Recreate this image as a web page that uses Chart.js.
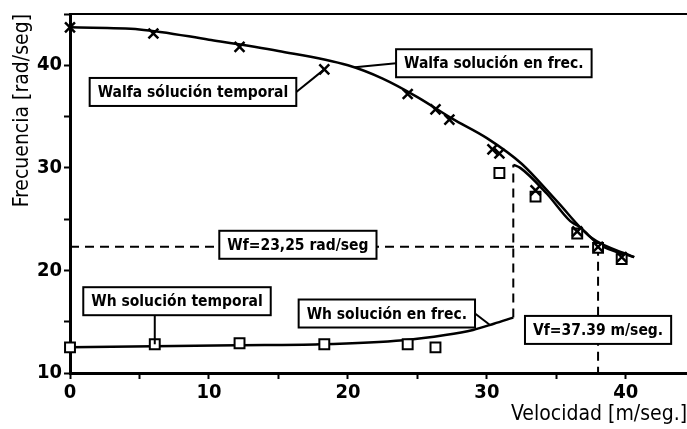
<!DOCTYPE html>
<html>
<head>
<meta charset="utf-8">
<script src="https://cdn.jsdelivr.net/npm/chart.js@4/dist/chart.umd.min.js"></script>
<style>html,body{margin:0;padding:0;background:#fff}</style>
</head>
<body>
<canvas id="flutterChart" width="687" height="429"></canvas>
<script>
// Walfa, time-domain runs (x marks)
const walfaTempX = [0, 6.0, 12.2, 18.3, 24.3, 26.3, 27.3, 30.4, 30.9, 33.5, 36.5, 38.0, 39.7];
const walfaTempY = [43.7, 43.1, 41.8, 39.6, 37.2, 35.7, 34.7, 31.8, 31.4, 27.8, 23.8, 22.3, 21.3];
// Wh, time-domain runs (squares)
const whTempX = [0, 6.1, 12.2, 18.3, 24.3, 26.3, 30.9, 33.5, 36.5, 38.0, 39.7];
const whTempY = [12.5, 12.8, 12.9, 12.8, 12.8, 12.5, 29.5, 27.2, 23.6, 22.2, 21.1];
// Walfa, frequency-domain solution
const walfaFreqX = [0, 5, 10, 15, 20, 22.5, 25, 27.5, 30, 32.5, 35, 37.5, 40.6];
const walfaFreqY = [43.7, 43.5, 42.5, 41.4, 40.0, 38.7, 36.9, 34.8, 32.9, 30.4, 26.8, 23.2, 21.3];
// Wh, frequency-domain solution (lower and upper branch)
const whFreqLowX = [0, 6, 12, 18, 24, 27, 29, 30.5, 31.9];
const whFreqLowY = [12.5, 12.6, 12.7, 12.8, 13.2, 13.7, 14.2, 14.8, 15.4];
const whFreqHighX = [31.9, 32.4, 34.3, 36.0, 36.7, 38.1, 40.6];
const whFreqHighY = [30.3, 30.0, 27.5, 24.8, 24.2, 22.5, 21.3];
// flutter point as drawn
const wfLevel = 22.3;
const vfSpeed = 38.0;
const jumpSpeed = 31.9;

const notes = [
  { text: 'Walfa sólución temporal', x: 8.85, y: 37.4, leader: { side: 'right', to: [18.3, 39.6] } },
  { text: 'Walfa solución en frec.', x: 30.5, y: 40.2, leader: { side: 'left', to: [20.5, 39.8] } },
  { text: 'Wf=23,25 rad/seg', x: 16.4, y: 22.5 },
  { text: 'Wh solución temporal', x: 7.7, y: 17.0, leader: { side: 'bottom', to: [6.1, 12.8] } },
  { text: 'Wh solución en frec.', x: 22.8, y: 15.8, leader: { side: 'right', to: [30.2, 14.7] } },
  { text: 'Vf=37.39 m/seg.', x: 38.0, y: 14.2 }
];

const FONT = '"DejaVu Sans Condensed", "Liberation Sans Narrow", "DejaVu Sans", sans-serif';
const toPts = (xs, ys) => xs.map((v, i) => ({ x: v, y: ys[i] }));

const notesPlugin = {
  id: 'notes',
  afterDatasetsDraw(chart) {
    const { ctx, scales: { x, y } } = chart;
    ctx.save();
    ctx.font = 'bold 15.5px ' + FONT;
    ctx.lineWidth = 2;
    ctx.strokeStyle = '#000';
    notes.forEach(n => {
      const cx = x.getPixelForValue(n.x), cy = y.getPixelForValue(n.y);
      const w = ctx.measureText(n.text).width + 16, h = 28;
      const left = cx - w / 2, top = cy - h / 2;
      if (n.leader) {
        const tx = x.getPixelForValue(n.leader.to[0]), ty = y.getPixelForValue(n.leader.to[1]);
        let sx = left + w, sy = cy;
        if (n.leader.side === 'left') sx = left;
        if (n.leader.side === 'bottom') { sx = tx; sy = top + h; }
        ctx.beginPath();
        ctx.moveTo(sx, sy);
        ctx.lineTo(tx, ty);
        ctx.stroke();
      }
      ctx.fillStyle = '#fff';
      ctx.fillRect(left, top, w, h);
      ctx.strokeRect(left, top, w, h);
      ctx.fillStyle = '#000';
      ctx.textAlign = 'center';
      ctx.textBaseline = 'middle';
      ctx.fillText(n.text, cx, cy + 1);
    });
    ctx.restore();
  }
};

const solid = { showLine: true, pointRadius: 0, borderColor: '#000', borderWidth: 2.5, cubicInterpolationMode: 'monotone' };
const dashed = { showLine: true, pointRadius: 0, borderColor: '#000', borderWidth: 2, borderDash: [9, 6] };

new Chart(document.getElementById('flutterChart'), {
  type: 'scatter',
  data: {
    datasets: [
      { label: 'Walfa solución temporal', data: toPts(walfaTempX, walfaTempY), pointStyle: 'crossRot',
        pointRadius: 7, borderColor: '#000', borderWidth: 2.5, clip: false },
      { label: 'Wh solución temporal', data: toPts(whTempX, whTempY), pointStyle: 'rect',
        pointRadius: 7, backgroundColor: '#fff', borderColor: '#000', borderWidth: 2, clip: false },
      { label: 'Walfa solución en frec.', data: toPts(walfaFreqX, walfaFreqY), ...solid },
      { label: 'Wh solución en frec.', data: toPts(whFreqLowX, whFreqLowY), ...solid },
      { label: 'Wh solución en frec. (rama superior)', data: toPts(whFreqHighX, whFreqHighY), ...solid },
      { label: 'Wf', data: [{ x: 0, y: wfLevel }, { x: vfSpeed, y: wfLevel }], ...dashed },
      { label: 'Vf', data: [{ x: vfSpeed, y: wfLevel }, { x: vfSpeed, y: 10 }], ...dashed },
      { label: 'salto', data: [{ x: jumpSpeed, y: whFreqLowY[whFreqLowY.length - 1] }, { x: jumpSpeed, y: whFreqHighY[0] }], ...dashed }
    ]
  },
  options: {
    responsive: false,
    animation: false,
    layout: { autoPadding: false, padding: { top: 13, left: 0, right: 0, bottom: 0 } },
    plugins: { legend: { display: false }, tooltip: { enabled: false } },
    scales: {
      x: {
        type: 'linear', position: 'bottom', min: 0, max: 44.4,
        ticks: { stepSize: 5, includeBounds: false, autoSkip: false, maxRotation: 0, color: '#000', padding: 2,
          font: { family: FONT, size: 20, weight: 'bold' },
          callback: v => (v % 10 === 0 ? v : '') },
        grid: { display: true, drawOnChartArea: false, drawTicks: true, tickLength: 6, tickWidth: 2, color: '#000' },
        border: { color: '#000', width: 3 },
        title: { display: true, text: 'Velocidad [m/seg.]', align: 'end', color: '#000',
          font: { family: FONT, size: 21 }, padding: { top: 0, bottom: 2 } },
        afterFit: s => { s.height = 56; }
      },
      x2: {
        type: 'linear', position: 'top', min: 0, max: 44.4,
        ticks: { display: false },
        grid: { display: false },
        border: { color: '#000', width: 2 },
        afterFit: s => { s.height = 0; }
      },
      y: {
        type: 'linear', min: 10, max: 45,
        ticks: { stepSize: 5, autoSkip: false, color: '#000', padding: 2,
          font: { family: FONT, size: 20, weight: 'bold' },
          callback: v => (v % 10 === 0 ? v : '') },
        grid: { display: true, drawOnChartArea: false, drawTicks: true, tickLength: 6, tickWidth: 2, color: '#000' },
        border: { color: '#000', width: 3 },
        title: { display: true, text: 'Frecuencia [rad/seg]', align: 'end', color: '#000',
          font: { family: FONT, size: 21 }, padding: { top: 10, bottom: 0 } },
        afterFit: s => { s.width = 70; }
      }
    }
  },
  plugins: [notesPlugin]
});
</script>
</body>
</html>
